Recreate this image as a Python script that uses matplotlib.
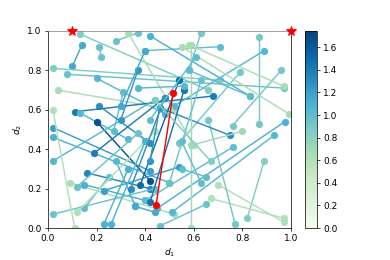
import numpy as np
import matplotlib
matplotlib.use("Agg")
import matplotlib.pyplot as plt

# segment endpoints (d1, d2) and value used for colour
x0 = [0.10, 0.13, 0.21, 0.28, 0.02, 0.08, 0.20, 0.04, 0.31, 0.21,
      0.11, 0.13, 0.20, 0.02, 0.02, 0.19, 0.02, 0.16, 0.09, 0.12,
      0.15, 0.23, 0.02, 0.15, 0.12, 0.02, 0.23, 0.26, 0.28, 0.975,
      0.93, 0.89, 0.70, 0.67, 0.77, 0.87, 0.89, 0.71, 0.42, 0.96,
      0.79, 0.55, 0.75, 0.76, 0.33, 0.59, 0.63, 0.37, 0.40, 0.54,
      0.56, 0.48, 0.46, 0.63, 0.61, 0.44, 0.59, 0.63, 0.65, 0.65,
      0.37, 0.58, 0.97, 0.36]
y0 = [0.82, 0.985, 0.92, 0.95, 0.81, 0.78, 0.76, 0.70, 0.69, 0.62,
      0.59, 0.585, 0.54, 0.51, 0.46, 0.38, 0.34, 0.28, 0.23, 0.21,
      0.22, 0.19, 0.07, 0.10, 0.08, 0.60, 0.02, 0.02, 0.34, 0.54,
      0.47, 0.34, 0.22, 0.15, 0.02, 0.97, 0.90, 0.92, 0.975, 0.80,
      0.79, 0.92, 0.47, 0.41, 0.99, 0.93, 0.99, 0.80, 0.90, 0.75,
      0.70, 0.66, 0.61, 0.75, 0.87, 0.65, 0.42, 0.23, 0.26, 0.12,
      0.71, 0.80, 0.72, 0.11]
x1 = [0.14, 0.66, 0.22, 0.37, 0.71, 0.97, 0.48, 0.52, 0.27, 0.42,
      0.68, 0.33, 0.42, 0.42, 0.50, 0.48, 0.44, 0.42, 0.52, 0.37,
      0.40, 0.54, 0.44, 0.25, 0.44, 0.11, 0.33, 0.40, 0.36, 0.45,
      0.51, 0.82, 0.97, 0.97, 0.66, 0.87, 0.52, 0.40, 0.83, 0.76,
      0.54, 0.99, 0.46, 0.40, 0.60, 0.59, 0.58, 0.30, 0.30, 0.38,
      0.42, 0.34, 0.42, 0.50, 0.42, 0.67, 0.80, 0.55, 0.55, 0.46,
      0.56, 0.83, 0.58, 0.44]
y1 = [0.93, 0.70, 0.87, 0.99, 0.75, 0.71, 0.58, 0.60, 0.49, 0.43,
      0.67, 0.45, 0.24, 0.29, 0.23, 0.66, 0.65, 0.20, 0.07, 0.48,
      0.14, 0.31, 0.20, 0.26, 0.49, 0.00, 0.30, 0.44, 0.11, 0.10,
      0.08, 0.05, 0.03, 0.05, 0.55, 0.53, 0.62, 0.90, 0.67, 0.52,
      0.43, 0.58, 0.61, 0.14, 0.42, 0.00, 0.80, 0.55, 0.62, 0.22,
      0.13, 0.20, 0.34, 0.23, 0.55, 0.34, 0.49, 0.44, 0.30, 0.01,
      0.72, 0.67, 0.93, 0.08]
val = [1.15, 0.85, 0.95, 0.95, 0.85, 0.95, 1.05, 0.65, 1.00, 1.30,
       1.40, 1.05, 1.65, 1.20, 1.10, 1.40, 1.05, 1.35, 0.65, 0.95,
       1.10, 1.20, 0.95, 1.00, 0.60, 0.60, 1.10, 1.10, 1.05, 1.10,
       1.05, 0.85, 0.60, 0.60, 0.90, 0.90, 1.05, 1.00, 1.10, 0.90,
       0.90, 0.65, 1.30, 1.00, 0.65, 0.70, 0.90, 1.25, 1.15, 1.50,
       1.45, 1.30, 1.25, 0.95, 1.00, 0.85, 0.70, 1.00, 1.00, 0.95,
       1.05, 1.00, 0.65, 1.15]

# highlighted pair and the two reference points
best_x = [0.445, 0.515]
best_y = [0.117, 0.685]
star_x = [0.10, 1.00]
star_y = [1.00, 1.00]

vmax = 1.745
cmap = plt.get_cmap("GnBu")
norm = plt.Normalize(0, vmax)

fig = plt.figure(figsize=(6, 4), dpi=65)
ax = fig.add_axes([0.123, 0.123, 0.623, 0.758])

for i in range(len(val)):
    col = cmap(norm(val[i]))
    ax.plot([x0[i], x1[i]], [y0[i], y1[i]], '-o', color=col, lw=1.6, ms=7)

ax.plot(best_x, best_y, '-o', color='red', lw=1.6, ms=7, zorder=5)
ax.plot(star_x, star_y, '*', color='red', ms=12, clip_on=False, zorder=6)

ax.set_xlim(0, 1)
ax.set_ylim(0, 1)
ax.spines['top'].set_color('grey')
ax.set_xlabel('$d_1$')
ax.set_ylabel('$d_2$')

cax = fig.add_axes([305 / 390, 0.123, 12 / 390, 0.758])
sm = plt.cm.ScalarMappable(norm=norm, cmap=cmap)
fig.colorbar(sm, cax=cax, ticks=np.arange(0, 1.7, 0.2))

fig.savefig("out.png", dpi=65)
